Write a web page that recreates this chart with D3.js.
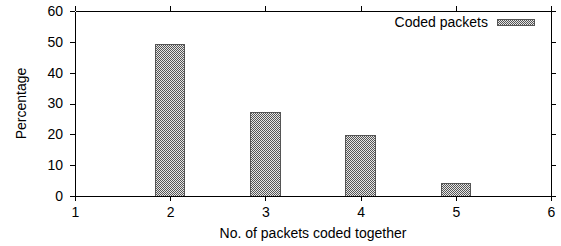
<!DOCTYPE html>
<html>
<head>
<meta charset="utf-8">
<script src="https://cdn.jsdelivr.net/npm/d3@7"></script>
<style>
  body { margin: 0; background: #fff; }
  text { font-family: "Liberation Sans", Arial, sans-serif; }
</style>
</head>
<body>
<div id="chart"></div>
<script>
// 資料
const groups = [2, 3, 4, 5];
const codedPackets = [49.1, 27.2, 19.6, 4.1];
const xTicks = [1, 2, 3, 4, 5, 6];
const yTicks = [0, 10, 20, 30, 40, 50, 60];
const seriesName = "Coded packets";

const W = 561, H = 246;
const margin = {top: 11, right: 10, bottom: 50, left: 75};
const width = W - margin.left - margin.right;
const height = H - margin.top - margin.bottom;

const svg = d3.select("#chart").append("svg")
    .attr("width", W)
    .attr("height", H);

// 網點填充 pattern
const defs = svg.append("defs");
const pat = defs.append("pattern")
    .attr("id", "dots")
    .attr("patternUnits", "userSpaceOnUse")
    .attr("width", 2).attr("height", 2);
pat.append("rect").attr("width", 2).attr("height", 2).attr("fill", "#e6e6e6");
pat.append("rect").attr("width", 1).attr("height", 1).attr("fill", "#555");
pat.append("rect").attr("x", 1).attr("y", 1).attr("width", 1).attr("height", 1).attr("fill", "#555");

const g = svg.append("g")
    .attr("transform", `translate(${margin.left},${margin.top})`);

const x = d3.scaleLinear().domain([1, 6]).range([0, width]);
const y = d3.scaleLinear().domain([0, 60]).range([height, 0]);
const boxWidth = 0.31;

// bars
g.selectAll("rect.bar")
    .data(groups.map((k, i) => ({k, v: codedPackets[i]})))
    .enter()
    .append("rect")
    .attr("class", "bar")
    .attr("x", d => x(d.k - boxWidth / 2))
    .attr("y", d => y(d.v))
    .attr("width", d => x(d.k + boxWidth / 2) - x(d.k - boxWidth / 2))
    .attr("height", d => y(0) - y(d.v))
    .attr("fill", "url(#dots)")
    .attr("stroke", "#555")
    .attr("stroke-width", 1)
    .attr("shape-rendering", "crispEdges");

// axes
const fontSize = 14;
function styleAxis(sel, labels) {
    sel.selectAll("path, line").attr("stroke", "#000").attr("shape-rendering", "crispEdges");
    sel.selectAll("text").style("font-size", fontSize + "px").attr("fill", "#000");
    if (!labels) sel.selectAll("text").remove();
}

g.append("g")
    .attr("transform", `translate(0,${height})`)
    .call(d3.axisBottom(x).tickValues(xTicks).tickFormat(d3.format("d")).tickSize(5).tickSizeOuter(0).tickPadding(6))
    .call(s => styleAxis(s, true));

g.append("g")
    .call(d3.axisTop(x).tickValues(xTicks).tickSize(5).tickSizeOuter(0))
    .call(s => styleAxis(s, false));

g.append("g")
    .call(d3.axisLeft(y).tickValues(yTicks).tickSize(5).tickSizeOuter(0).tickPadding(7))
    .call(s => styleAxis(s, true));

g.append("g")
    .attr("transform", `translate(${width},0)`)
    .call(d3.axisRight(y).tickValues(yTicks).tickSize(5).tickSizeOuter(0))
    .call(s => styleAxis(s, false));

// axis labels
svg.append("text")
    .attr("x", margin.left + width / 2)
    .attr("y", 238)
    .attr("text-anchor", "middle")
    .style("font-size", fontSize + "px")
    .text("No. of packets coded together");

svg.append("text")
    .attr("transform", `translate(26,${margin.top + height / 2}) rotate(-90)`)
    .attr("text-anchor", "middle")
    .style("font-size", fontSize + "px")
    .text("Percentage");

// legend
const legend = svg.append("g");
legend.append("text")
    .attr("x", 488)
    .attr("y", 26.5)
    .attr("text-anchor", "end")
    .style("font-size", fontSize + "px")
    .text(seriesName);
legend.append("rect")
    .attr("x", 497)
    .attr("y", 19)
    .attr("width", 37)
    .attr("height", 6)
    .attr("fill", "url(#dots)")
    .attr("stroke", "#555")
    .attr("shape-rendering", "crispEdges");
</script>
</body>
</html>
